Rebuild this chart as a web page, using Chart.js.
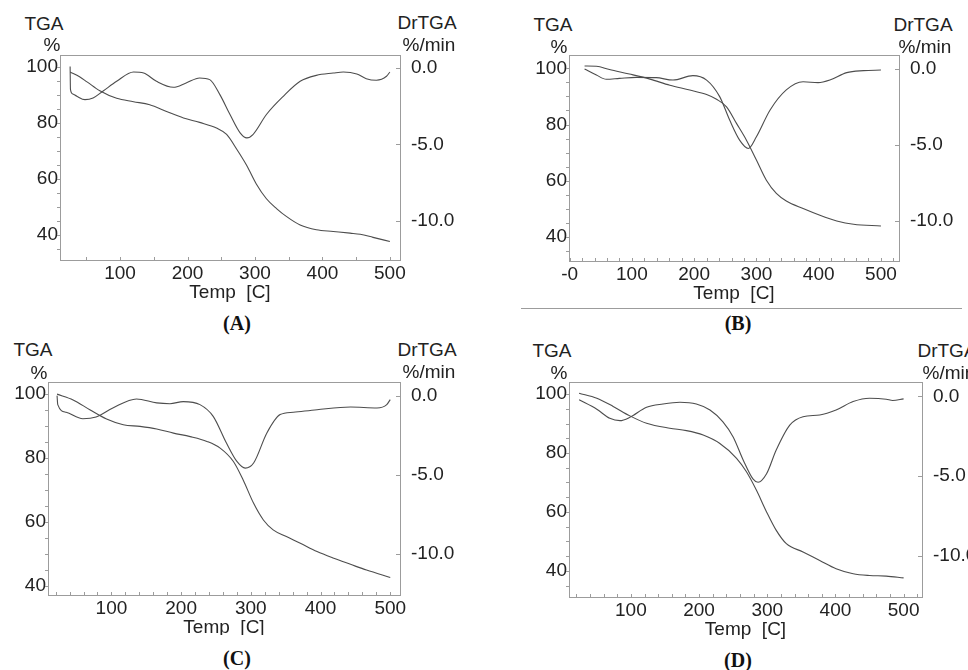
<!DOCTYPE html>
<html>
<head>
<meta charset="utf-8">
<script src="https://cdn.jsdelivr.net/npm/chart.js@4"></script>
<style>
  body { margin: 0; width: 968px; height: 670px; overflow: hidden; background: #fff; position: relative; }
  canvas { position: absolute; }
  .lbl { position: absolute; transform: translate(-50%, -50%); font: 19px "Liberation Sans", Arial, sans-serif; color: #222; white-space: pre; }
  .tag { position: absolute; transform: translate(-50%, -50%); font: bold 20px "Liberation Serif", "Times New Roman", serif; color: #111; }
</style>
</head>
<body>
<script>
// panel A
var aTgaT = [26, 40, 51, 70, 95, 120, 144, 169, 194, 218, 243, 258, 273, 288, 302, 317, 332, 347, 367, 391, 416, 441, 456, 475, 500];
var aTga  = [98.2, 96.5, 94.7, 91.5, 88.8, 87.6, 86.5, 84.1, 81.8, 80.2, 78.2, 75.9, 70.6, 64.7, 58.2, 52.9, 49.4, 46.5, 43.5, 41.8, 41.2, 40.6, 40.2, 39.1, 37.6];
var aDrT  = [26, 26.5, 30, 36, 48, 60, 75, 95, 120, 135, 154, 179, 198, 218, 233, 248, 263, 278, 288, 297, 317, 342, 367, 391, 416, 431, 451, 465, 480, 495, 500];
var aDr   = [0.1, -1.4, -1.7, -1.85, -2.07, -1.96, -1.5, -0.87, -0.26, -0.33, -0.87, -1.26, -0.98, -0.65, -0.76, -1.74, -3.04, -4.24, -4.57, -4.35, -3.04, -1.85, -0.87, -0.48, -0.33, -0.26, -0.39, -0.70, -0.80, -0.54, -0.26];

// panel B
var bTgaT = [24, 43, 64, 96, 129, 161, 193, 220, 236, 252, 268, 284, 300, 316, 332, 348, 375, 402, 429, 456, 500];
var bTga  = [100.9, 100.8, 99.6, 98, 96.2, 94, 92.3, 90.7, 89, 86.3, 80.4, 74.4, 67.3, 60.1, 55.4, 52.7, 50, 47.6, 45.6, 44.4, 43.8];
var bDrT  = [24, 43, 59, 80, 107, 139, 166, 198, 220, 241, 257, 273, 287, 300, 322, 348, 375, 399, 418, 445, 472, 500];
var bDr   = [0, -0.4, -0.68, -0.62, -0.55, -0.57, -0.73, -0.44, -0.73, -1.82, -3.36, -4.68, -5.23, -4.46, -2.70, -1.38, -0.84, -0.9, -0.73, -0.24, -0.11, -0.07];

// panel C
var cTgaT = [22, 45, 69, 93, 117, 141, 165, 189, 213, 237, 256, 275, 289, 304, 318, 332, 351, 371, 395, 419, 443, 466, 500];
var cTga  = [100, 98.2, 95.1, 92.2, 90.4, 89.9, 89.1, 87.8, 86.7, 85.2, 83.1, 78.9, 73.1, 65.8, 60.6, 57.5, 55.4, 53.3, 50.7, 48.6, 46.7, 44.9, 42.6];
var cDrT  = [22, 23, 35, 59, 78, 102, 136, 165, 184, 203, 227, 246, 265, 280, 292, 304, 323, 342, 361, 395, 443, 481, 495, 500];
var cDr   = [0, -0.57, -1.05, -1.46, -1.35, -0.78, -0.21, -0.46, -0.51, -0.38, -0.57, -1.31, -3.0, -4.16, -4.58, -4.26, -2.36, -1.2, -1.05, -0.89, -0.72, -0.78, -0.57, -0.25];

// panel D
var dTgaT = [24, 50, 74, 98.5, 123, 157, 181.5, 206, 230, 255, 269.5, 284, 299, 313, 328, 352.5, 377, 401, 426, 450, 474.5, 500];
var dTga  = [100.3, 98.6, 95.8, 92.6, 90.1, 88.4, 87.6, 86.1, 83.3, 78.2, 73.6, 67.4, 60, 53.8, 49.2, 46.4, 43.5, 40.7, 39, 38.4, 38.2, 37.6];
var dDrT  = [24, 50, 69, 84, 98.5, 123, 147, 172, 196, 216, 235, 250, 265, 279, 286.5, 299, 313, 333, 352.5, 377, 401, 426, 450, 474.5, 484, 500];
var dDr   = [-0.21, -0.8, -1.37, -1.52, -1.31, -0.68, -0.47, -0.36, -0.47, -0.85, -1.59, -2.54, -4.02, -5.18, -5.39, -4.86, -3.38, -1.8, -1.27, -1.16, -0.85, -0.32, -0.11, -0.17, -0.25, -0.15];

// x tick text overrides (panel B shows "-0")
var bTickText = { 0: '-0' };

Chart.defaults.font.family = '"Liberation Sans", Arial, sans-serif';
Chart.defaults.font.size = 19;
Chart.defaults.color = '#222';

var LW = 46, RW = 70, TOP = 10, XH = 44;

// box + ticks drawn by hand from the scales
var frame = {
  id: 'frame',
  afterDraw: function (chart) {
    var ctx = chart.ctx, a = chart.chartArea, s = chart.scales;
    ctx.save();
    ctx.strokeStyle = '#9c9c9c';
    ctx.lineWidth = 1;
    ctx.strokeRect(Math.round(a.left) + 0.5, Math.round(a.top) + 0.5, Math.round(a.right - a.left), Math.round(a.bottom - a.top));
    ctx.beginPath();
    s.x.ticks.forEach(function (t) {
      var p = Math.round(s.x.getPixelForValue(t.value)) + 0.5;
      ctx.moveTo(p, a.bottom); ctx.lineTo(p, a.bottom - 3);
    });
    s.y.ticks.forEach(function (t) {
      var p = Math.round(s.y.getPixelForValue(t.value)) + 0.5;
      ctx.moveTo(a.left - 3, p); ctx.lineTo(a.left, p);
    });
    s.y1.ticks.forEach(function (t) {
      var p = Math.round(s.y1.getPixelForValue(t.value)) + 0.5;
      ctx.moveTo(a.right - 4, p); ctx.lineTo(a.right, p);
    });
    ctx.stroke();
    ctx.restore();
  }
};

function noPad(s) {
  s.paddingTop = 0; s.paddingBottom = 0; s.paddingLeft = 0; s.paddingRight = 0;
}

function pts(xs, ys) {
  return xs.map(function (x, i) { return { x: x, y: ys[i] }; });
}

function panel(box, xr, xStep, yl, yr, tgaT, tga, drT, dr, tickText) {
  var cv = document.createElement('canvas');
  var w = box[2] - box[0] + LW + RW, h = box[3] - box[1] + TOP + XH;
  cv.width = w; cv.height = h;
  cv.style.left = (box[0] - LW) + 'px';
  cv.style.top = (box[1] - TOP) + 'px';
  document.body.appendChild(cv);
  var line = { borderColor: '#4d4d4d', borderWidth: 1.1, pointRadius: 0, cubicInterpolationMode: 'monotone', fill: false };
  var hidden = { display: false, drawTicks: false, tickLength: 0 };
  return new Chart(cv, {
    type: 'line',
    data: {
      datasets: [
        Object.assign({ label: 'TGA', data: pts(tgaT, tga), yAxisID: 'y' }, line),
        Object.assign({ label: 'DrTGA', data: pts(drT, dr), yAxisID: 'y1' }, line)
      ]
    },
    options: {
      responsive: false,
      animation: false,
      devicePixelRatio: 1,
      layout: { padding: { top: TOP, left: 0, right: 0, bottom: 0 } },
      plugins: { legend: { display: false }, tooltip: { enabled: false } },
      scales: {
        x: {
          type: 'linear', min: xr[0], max: xr[1],
          grid: hidden, border: { display: false },
          ticks: {
            stepSize: xStep, includeBounds: false, autoSkip: false, maxRotation: 0, padding: 2,
            callback: function (v) {
              if (Math.abs(v % 100) > 1e-6) return '';
              return (tickText && tickText[v] !== undefined) ? tickText[v] : v;
            }
          },
          title: { display: true, text: 'Temp  [C]', padding: 0 },
          afterFit: function (s) { s.height = XH; noPad(s); }
        },
        y: {
          position: 'left', min: yl[0], max: yl[1],
          grid: hidden, border: { display: false },
          ticks: {
            stepSize: 5, includeBounds: false, autoSkip: false, padding: 2,
            callback: function (v) { return Math.abs(v % 20) < 1e-6 ? v : ''; }
          },
          afterFit: function (s) { s.width = LW; noPad(s); }
        },
        y1: {
          position: 'right', min: yr[0], max: yr[1],
          grid: hidden, border: { display: false },
          ticks: {
            stepSize: 5, includeBounds: false, autoSkip: false, padding: 11,
            callback: function (v) { return v.toFixed(1); }
          },
          afterFit: function (s) { s.width = RW; noPad(s); }
        }
      }
    },
    plugins: [frame]
  });
}

function label(text, x, y, cls) {
  var d = document.createElement('div');
  d.className = cls || 'lbl';
  d.textContent = text;
  d.style.left = x + 'px';
  d.style.top = y + 'px';
  document.body.appendChild(d);
}

panel([60, 55, 400, 260], [11, 515], 50, [31, 104.3], [-12.55, 0.85], aTgaT, aTga, aDrT, aDr);
panel([569, 55, 899, 261], [-1, 529], 20, [31.3, 104.8], [-12.64, 0.92], bTgaT, bTga, bDrT, bDr, bTickText);
panel([48, 382, 400, 595], [9, 514], 20, [37.1, 103.8], [-12.6, 0.86], cTgaT, cTga, cDrT, cDr);
panel([569, 382, 922, 597], [9.2, 527], 20, [31.1, 104.1], [-12.6, 0.91], dTgaT, dTga, dDrT, dDr);

label('TGA', 44, 24);  label('%', 52, 45);  label('DrTGA', 427, 23); label('%/min', 429, 45);
label('TGA', 553, 25); label('%', 559, 47); label('DrTGA', 923, 25); label('%/min', 925, 47);
label('TGA', 33, 350); label('%', 39, 373); label('DrTGA', 427, 350); label('%/min', 429, 372);
label('TGA', 552, 351); label('%', 559, 373); label('DrTGA', 947, 351); label('%/min', 949, 373);

label('(A)', 237, 323, 'tag');
label('(B)', 738, 323, 'tag');
label('(C)', 237, 658, 'tag');
label('(D)', 738, 660, 'tag');

// rule under panel B
var rule = document.createElement('div');
rule.style.cssText = 'position:absolute;left:521px;top:308px;width:441px;height:1px;background:#9c9c9c;';
document.body.appendChild(rule);

// panel C's axis title is clipped at the bottom in the original
var mask = document.createElement('div');
mask.style.cssText = 'position:absolute;left:160px;top:635px;width:130px;height:8px;background:#fff;';
document.body.appendChild(mask);
</script>
</body>
</html>
